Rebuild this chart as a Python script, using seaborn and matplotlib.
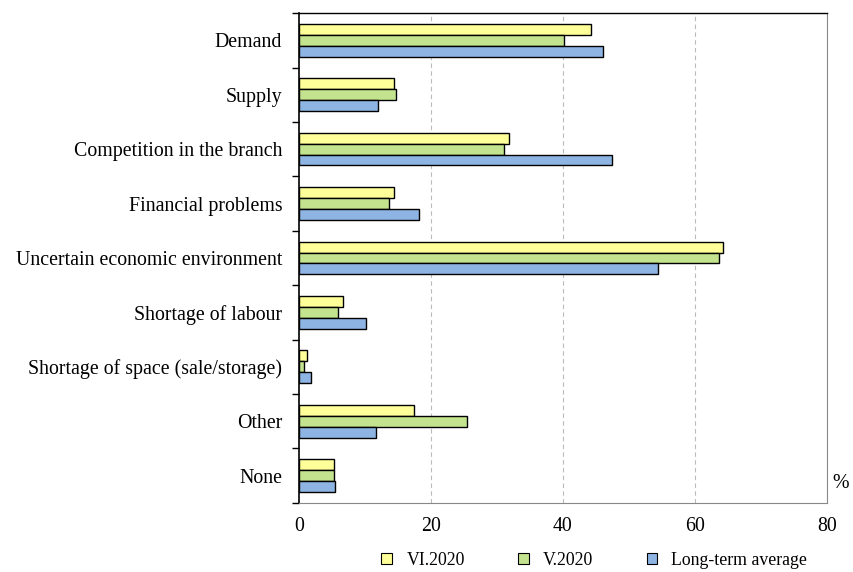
import matplotlib
matplotlib.use("Agg")
import matplotlib.pyplot as plt
import seaborn as sns
import pandas as pd
from matplotlib.patches import Patch
from matplotlib.ticker import FixedLocator

categories = [
    "Demand",
    "Supply",
    "Competition in the branch",
    "Financial problems",
    "Uncertain economic environment",
    "Shortage of labour",
    "Shortage of space (sale/storage)",
    "Other",
    "None",
]
series_names = ["VI.2020", "V.2020", "Long-term average"]
vi_2020 = [44.3, 14.4, 31.8, 14.4, 64.3, 6.7, 1.2, 17.4, 5.3]
v_2020 = [40.2, 14.7, 31.1, 13.7, 63.7, 6.0, 0.8, 25.5, 5.3]
long_term = [46.1, 12.0, 47.5, 18.2, 54.4, 10.1, 1.8, 11.7, 5.5]
x_ticks = [0, 20, 40, 60, 80]

colors = ["#FFFF99", "#C4E38F", "#8DB4E2"]

rows = []
for name, vals in zip(series_names, [vi_2020, v_2020, long_term]):
    for cat, v in zip(categories, vals):
        rows.append({"category": cat, "value": v, "series": name})
df = pd.DataFrame(rows)

sns.set_style("white")
plt.rcParams["font.family"] = ["Liberation Serif", "DejaVu Serif"]
plt.rcParams["text.color"] = "black"
plt.rcParams["xtick.color"] = "black"
plt.rcParams["ytick.color"] = "black"

fig = plt.figure(figsize=(8.54, 5.72), dpi=100)
ax = fig.add_axes([0.350, 0.121, 0.618, 0.856])

sns.barplot(
    data=df, y="category", x="value", hue="series", orient="h",
    order=categories, hue_order=series_names, palette=colors,
    width=0.6, edgecolor="black", linewidth=1.0, saturation=1,
    legend=False, ax=ax,
)

ax.set_xlim(0, 80)
ax.set_ylim(len(categories) - 0.5, -0.5)
ax.set_xticks(x_ticks)
ax.set_xticklabels([str(t) for t in x_ticks], fontsize=14.3)
ax.tick_params(axis="x", length=0, pad=10)
ax.set_yticks(range(len(categories)))
ax.set_yticklabels(categories, fontsize=14.3)
ax.tick_params(axis="y", which="major", length=0, pad=12)
ax.yaxis.set_minor_locator(FixedLocator([i - 0.5 for i in range(len(categories) + 1)]))
ax.tick_params(axis="y", which="minor", left=True, length=5, width=1,
               color="black", direction="out")
ax.set_xlabel("")
ax.set_ylabel("")

for x in x_ticks[1:-1]:
    ax.axvline(x, color="#BBBBBB", linestyle=(0, (4, 3)), linewidth=0.8, zorder=0)

ax.spines["left"].set_color("black")
ax.spines["left"].set_linewidth(1.2)
ax.spines["top"].set_color("black")
ax.spines["top"].set_linewidth(1.0)
ax.spines["right"].set_color("#888888")
ax.spines["bottom"].set_color("#888888")

ax.text(1.01, 0.04, "%", transform=ax.transAxes, fontsize=14.3, ha="left", va="center")

handles = [Patch(facecolor=c, edgecolor="black", linewidth=0.8) for c in colors]
fig.legend(
    handles, series_names, loc="center", bbox_to_anchor=(0.696, 0.02),
    ncol=3, frameon=False, fontsize=12.8, handlelength=0.6, handleheight=0.6,
    columnspacing=3.0, handletextpad=0.8,
)

fig.savefig("out.png", dpi=100)
